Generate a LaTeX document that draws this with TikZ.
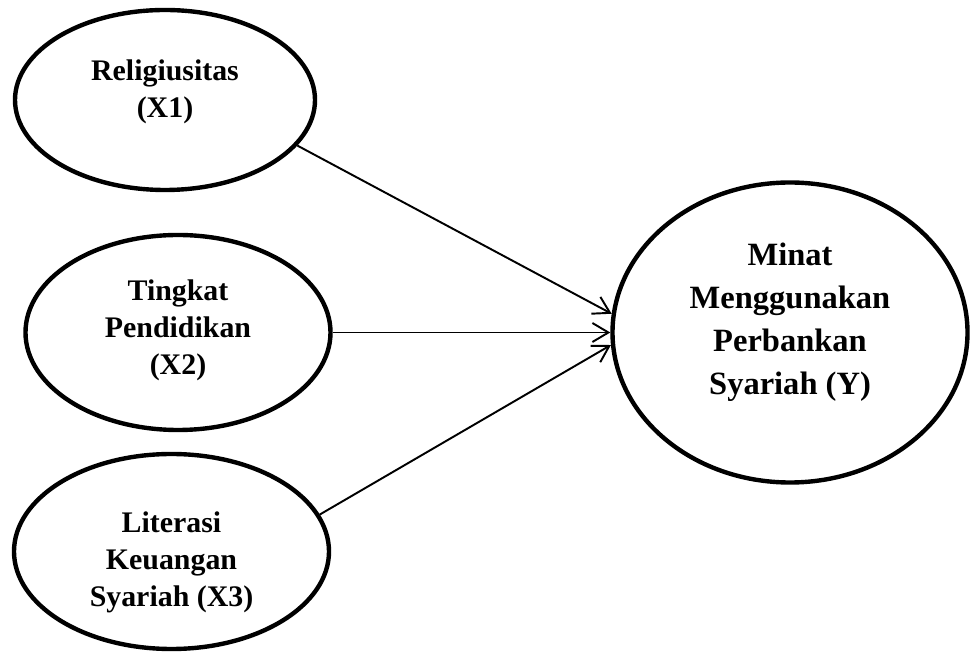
\documentclass[tikz,border=0pt]{standalone}
\usepackage{fontspec}
\setmainfont{Liberation Serif}
\usetikzlibrary{arrows.meta,positioning,shapes.geometric}

\begin{document}
\begin{tikzpicture}[
  var/.style={draw, ellipse, line width=2.5pt, inner sep=0pt},
  lbl/.style={align=center, font=\bfseries\fontsize{17}{21}\selectfont},
  biglbl/.style={align=center, font=\bfseries\fontsize{18.5}{24.5}\selectfont},
  arr/.style={-{Straight Barb[length=3.2mm,width=3.8mm]}, line width=1.1pt},
]
  \useasboundingbox (0,0) rectangle (19.4,13.08);

  \node[var, minimum width=6.0cm, minimum height=3.6cm,
        label={[lbl, yshift=0.16cm]center:Religiusitas\\(X1)}] (rel) at (3.30,11.08) {};
  \node[var, minimum width=6.1cm, minimum height=3.9cm,
        label={[lbl, yshift=0.04cm]center:Tingkat\\Pendidikan\\(X2)}] (pend) at (3.56,6.43) {};
  \node[var, minimum width=6.3cm, minimum height=3.9cm,
        label={[lbl, yshift=-0.21cm]center:Literasi\\Keuangan\\Syariah (X3)}] (lit) at (3.43,2.05) {};

  \node[var, minimum width=7.1cm, minimum height=6.0cm,
        label={[biglbl, yshift=0.2cm]center:Minat\\Menggunakan\\Perbankan\\Syariah (Y)}] (minat) at (15.8,6.43) {};

  \draw[arr] (rel.-19) -- (minat.174);
  \draw[arr] (pend) -- (minat);
  \draw[arr] (lit.14) -- (minat.184.5);
\end{tikzpicture}
\end{document}
